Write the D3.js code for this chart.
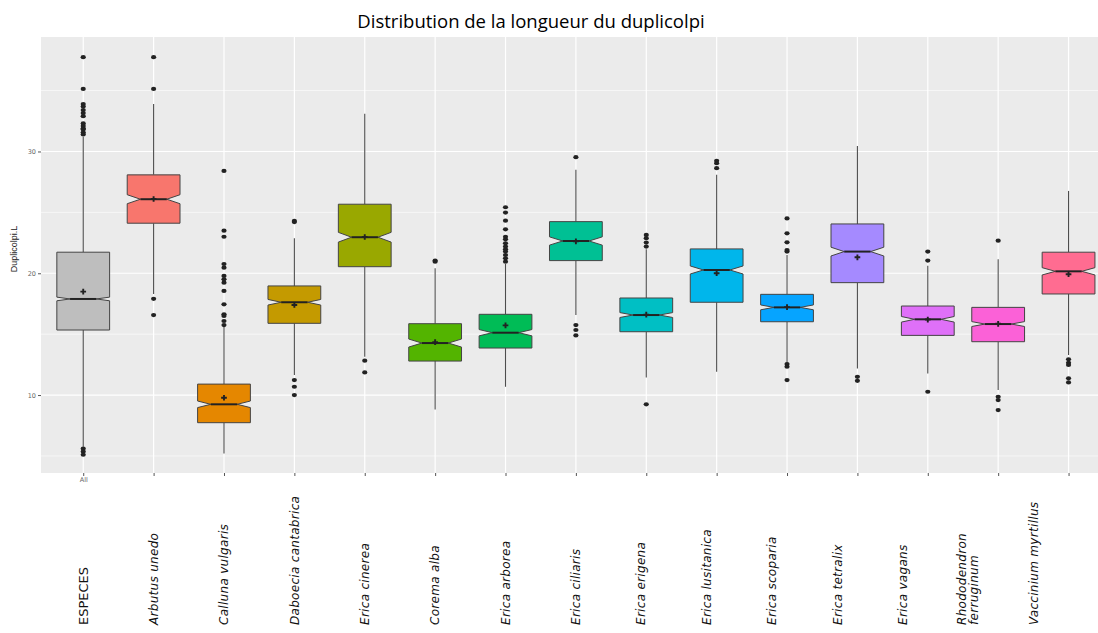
<!DOCTYPE html>
<html>
<head>
<meta charset="utf-8">
<script src="https://cdn.jsdelivr.net/npm/d3@7"></script>
<style>
    body { margin: 0; background: #fff; }
    svg { display: block; }
</style>
</head>
<body>
<div id="chart"></div>
<script>
// --- Data ---
const categories = ["All", "Arbutus unedo", "Calluna vulgaris", "Daboecia cantabrica", "Erica cinerea",
    "Corema alba", "Erica arborea", "Erica ciliaris", "Erica erigena", "Erica lusitanica",
    "Erica scoparia", "Erica tetralix", "Erica vagans", "Rhododendron ferruginum", "Vaccinium myrtillus"];

const tickLabels = ["All", "", "", "", "", "", "", "", "", "", "", "", "", "", ""];

// big annotation labels under the axis (lines of text)
const speciesLabels = [["ESPECES"], ["Arbutus unedo"], ["Calluna vulgaris"], ["Daboecia cantabrica"], ["Erica cinerea"],
    ["Corema alba"], ["Erica arborea"], ["Erica ciliaris"], ["Erica erigena"], ["Erica lusitanica"],
    ["Erica scoparia"], ["Erica tetralix"], ["Erica vagans"], ["Rhododendron", "ferruginum"], ["Vaccinium myrtillus"]];

const whiskerLow  = [5.75, 18.3, 5.2, 11.64, 13.15, 8.82, 10.68, 16.57, 11.45, 11.91, 12.6, 12.19, 11.78, 10.41, 13.29];
const q1          = [15.34, 24.11, 7.73, 15.89, 20.54, 12.79, 13.86, 21.04, 15.2, 17.62, 16.02, 19.23, 14.9, 14.38, 18.3];
const medians     = [17.89, 26.08, 9.24, 17.62, 22.96, 14.27, 15.12, 22.65, 16.57, 20.27, 17.2, 21.78, 16.22, 15.83, 20.16];
const q3          = [21.73, 28.08, 10.9, 18.96, 25.67, 15.86, 16.63, 24.24, 17.97, 22.0, 18.27, 24.05, 17.31, 17.2, 21.73];
const whiskerHigh = [31.2, 33.9, 15.6, 22.87, 33.09, 20.41, 20.76, 28.49, 21.97, 28.08, 21.5, 30.46, 20.62, 21.15, 26.76];
const means       = [18.49, 26.1, 9.78, 17.4, 22.98, 14.35, 15.72, 22.62, 16.6, 20.0, 17.22, 21.31, 16.2, 15.85, 19.92];
const notchHalf   = [0.15, 0.37, 0.27, 0.23, 0.4, 0.33, 0.26, 0.34, 0.2, 0.33, 0.2, 0.36, 0.23, 0.2, 0.3];

const outliers = [
    [37.74, 35.14, 33.9, 33.7, 33.4, 33.15, 32.9, 32.3, 32.1, 31.9, 31.8, 31.55, 31.4, 5.6, 5.35, 5.1],
    [37.74, 35.14, 17.9, 16.57],
    [28.4, 23.5, 23.0, 20.76, 20.46, 19.78, 19.5, 19.23, 18.55, 17.45, 16.63, 16.5, 16.08, 15.75],
    [24.3, 24.2, 11.23, 10.68, 10.0],
    [12.82, 11.86],
    [21.04, 20.95],
    [25.42, 24.98, 24.32, 23.61, 23.0, 22.79, 22.46, 22.19, 21.97, 21.78, 21.5, 21.23, 20.95],
    [29.53, 15.75, 15.34, 14.9],
    [23.15, 22.88, 22.52, 22.19, 9.24],
    [29.23, 29.04, 28.63],
    [24.5, 23.28, 22.54, 21.91, 21.78, 12.55, 12.33, 11.23],
    [11.5, 11.17],
    [21.78, 21.04, 10.27],
    [22.68, 9.86, 9.59, 8.77],
    [12.93, 12.65, 12.47, 11.37, 11.04]
];

const fills = ["#BEBEBE", "#F8766D", "#E58700", "#C49A00", "#99A800", "#53B400", "#00BC56", "#00C094",
    "#00BFC4", "#00B6EB", "#06A4FF", "#A58AFF", "#DF70F8", "#FB61D7", "#FF6C91"];

const yTicks = [10, 20, 30];
const yMinor = [5, 15, 25, 35];

// --- Layout ---
const width = 1098;
const height = 633;
const margin = { top: 37, left: 41, bottom: 160 };
const innerWidth = width - margin.left;
const step = 70.38;   // the panel of the original runs past the right edge of the picture
const innerHeight = height - margin.top - margin.bottom;

const svg = d3.select("#chart").append("svg")
    .attr("width", width)
    .attr("height", height);

const x = d3.scalePoint()
    .domain(categories)
    .range([0.6 * step, 0.6 * step + (categories.length - 1) * step]);

const y = d3.scaleLinear()
    .domain([3.6, 39.4])
    .range([innerHeight, 0]);

const boxHalf = x.step() * 0.75 / 2;

// Title
svg.append("text")
    .attr("x", 531)
    .attr("y", 28)
    .attr("text-anchor", "middle")
    .attr("font-family", "'Open Sans', sans-serif")
    .attr("font-size", 18.5)
    .attr("fill", "#000")
    .text("Distribution de la longueur du duplicolpi");

const g = svg.append("g")
    .attr("transform", `translate(${margin.left},${margin.top})`);

// Panel background
g.append("rect")
    .attr("width", innerWidth)
    .attr("height", innerHeight)
    .attr("fill", "#EBEBEB");

// Grid lines
g.append("g")
    .selectAll("line")
    .data(yMinor)
    .join("line")
    .attr("x1", 0).attr("x2", innerWidth)
    .attr("y1", d => y(d)).attr("y2", d => y(d))
    .attr("stroke", "#fff")
    .attr("stroke-width", 0.6);

g.append("g")
    .selectAll("line")
    .data(yTicks)
    .join("line")
    .attr("x1", 0).attr("x2", innerWidth)
    .attr("y1", d => y(d)).attr("y2", d => y(d))
    .attr("stroke", "#fff")
    .attr("stroke-width", 1.2);

g.append("g")
    .selectAll("line")
    .data(categories)
    .join("line")
    .attr("x1", d => x(d)).attr("x2", d => x(d))
    .attr("y1", 0).attr("y2", innerHeight)
    .attr("stroke", "#fff")
    .attr("stroke-width", 1.2);

// Axes
const yAxis = g.append("g")
    .call(d3.axisLeft(y).tickValues(yTicks).tickSize(3).tickPadding(2));
yAxis.select(".domain").remove();
yAxis.selectAll("line").attr("stroke", "#555");
yAxis.selectAll("text")
    .attr("font-family", "'DejaVu Sans', sans-serif")
    .attr("font-size", 6.5)
    .attr("fill", "#666");

const xAxis = g.append("g")
    .attr("transform", `translate(0,${innerHeight})`)
    .call(d3.axisBottom(x).tickFormat((d, i) => tickLabels[i]).tickSize(3).tickPadding(1));
xAxis.select(".domain").remove();
xAxis.selectAll("line").attr("stroke", "#555");
xAxis.selectAll("text")
    .filter(function () { return this.textContent === ""; })
    .remove();
xAxis.selectAll("text")
    .attr("font-family", "'DejaVu Sans', sans-serif")
    .attr("font-size", 6.5)
    .attr("fill", "#666");

// Y title
svg.append("text")
    .attr("transform", `translate(17,${margin.top + innerHeight / 2 - 6}) rotate(-90)`)
    .attr("text-anchor", "middle")
    .attr("font-family", "'Liberation Sans Narrow', 'Liberation Sans', sans-serif")
    .attr("font-size", 9)
    .attr("fill", "#222")
    .text("Duplicolpi.L");

// Boxes
const boxData = categories.map((c, i) => ({
    name: c,
    lo: whiskerLow[i], q1: q1[i], med: medians[i], q3: q3[i], hi: whiskerHigh[i],
    mean: means[i], notch: notchHalf[i], fill: fills[i], out: outliers[i]
}));

const boxes = g.append("g")
    .selectAll("g")
    .data(boxData)
    .join("g");

// whiskers
boxes.append("line")
    .attr("x1", d => x(d.name)).attr("x2", d => x(d.name))
    .attr("y1", d => y(d.hi)).attr("y2", d => y(d.q3))
    .attr("stroke", "#4d4d4d").attr("stroke-width", 1.1);
boxes.append("line")
    .attr("x1", d => x(d.name)).attr("x2", d => x(d.name))
    .attr("y1", d => y(d.q1)).attr("y2", d => y(d.lo))
    .attr("stroke", "#4d4d4d").attr("stroke-width", 1.1);

// notched box
function notchPath(d) {
    const cx = x(d.name);
    const w = boxHalf;
    const yTop = y(d.q3), yBot = y(d.q1), yMed = y(d.med);
    const nUp = y(d.med + d.notch), nLo = y(d.med - d.notch);
    const p = d3.path();
    p.moveTo(cx - w, yTop);
    p.lineTo(cx + w, yTop);
    p.lineTo(cx + w, nUp);
    p.lineTo(cx + w / 2, yMed);
    p.lineTo(cx + w, nLo);
    p.lineTo(cx + w, yBot);
    p.lineTo(cx - w, yBot);
    p.lineTo(cx - w, nLo);
    p.lineTo(cx - w / 2, yMed);
    p.lineTo(cx - w, nUp);
    p.closePath();
    return p.toString();
}

boxes.append("path")
    .attr("d", notchPath)
    .attr("fill", d => d.fill)
    .attr("stroke", "#444")
    .attr("stroke-width", 1);

// median
boxes.append("line")
    .attr("x1", d => x(d.name) - boxHalf / 2).attr("x2", d => x(d.name) + boxHalf / 2)
    .attr("y1", d => y(d.med)).attr("y2", d => y(d.med))
    .attr("stroke", "#222").attr("stroke-width", 2);

// mean marker
boxes.append("path")
    .attr("transform", d => `translate(${x(d.name)},${y(d.mean)})`)
    .attr("d", d3.symbol(d3.symbolCross, 18))
    .attr("fill", "#222");

// outliers
boxes.selectAll("ellipse")
    .data(d => d.out.map(v => ({ name: d.name, v })))
    .join("ellipse")
    .attr("cx", d => x(d.name))
    .attr("cy", d => y(d.v))
    .attr("rx", 2.6)
    .attr("ry", 2.1)
    .attr("fill", "#222");

// Species labels under the axis (placed by hand in the original, drifting left on the right side)
const labelBottom = 625;
const labels = svg.append("g")
    .selectAll("text")
    .data(speciesLabels)
    .join("text")
    .attr("transform", (d, i) => {
        const drift = Math.max(0, i - 7) * 5;
        return `translate(${margin.left + x(categories[i]) - drift},${labelBottom}) rotate(-90)`;
    })
    .attr("font-family", "'DejaVu Sans', sans-serif")
    .attr("font-style", (d, i) => i === 0 ? "normal" : "italic")
    .attr("font-size", (d, i) => i === 0 ? 13 : 12)
    .attr("letter-spacing", (d, i) => i === 0 ? 0 : 0.3)
    .attr("fill", "#111");

labels.selectAll("tspan")
    .data(d => d.map((t, k) => ({ t, k, n: d.length })))
    .join("tspan")
    .attr("x", 0)
    .attr("dy", d => d.k === 0 ? (0.35 - (d.n - 1) * 0.5) + "em" : "1.0em")
    .text(d => d.t);
</script>
</body>
</html>
